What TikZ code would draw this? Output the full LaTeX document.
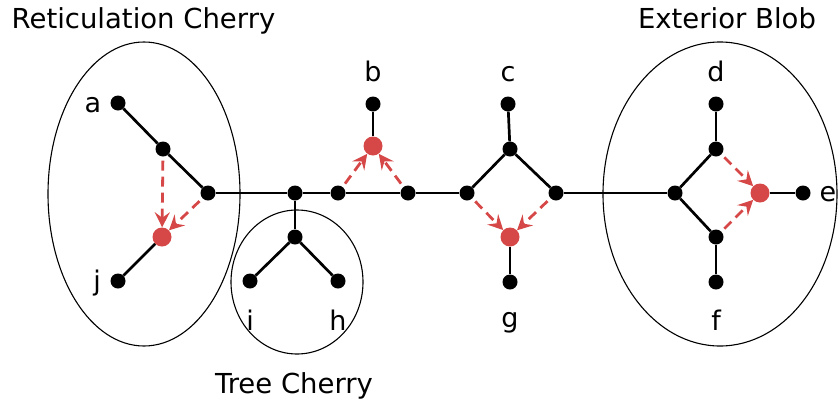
\documentclass[tikz,border=0pt]{standalone}
\usepackage{fontspec}
\setmainfont{DejaVu Sans}
\usetikzlibrary{arrows.meta}
\definecolor{retred}{RGB}{214,72,72}
\begin{document}
\begin{tikzpicture}[x=1pt,y=-1pt,
  dot/.style={circle,fill=black,inner sep=0pt,minimum size=15pt},
  rdot/.style={circle,fill=retred,inner sep=0pt,minimum size=19pt},
  edge/.style={line width=2.7pt,black},
  ret/.style={line width=2.8pt,retred,dash pattern=on 10pt off 6pt,-{Stealth[length=15pt,width=15pt,inset=5.5pt]},shorten <=4pt},
  blob/.style={line width=1.1pt,black},
  lab/.style={font=\fontsize{27}{31}\selectfont,inner sep=0pt,anchor=base},
  title/.style={font=\fontsize{27.5}{31}\selectfont,inner sep=0pt,anchor=base}]
\useasboundingbox (0,0) rectangle (838,405);
% blobs
\draw[blob] (144,194) ellipse [x radius=96,y radius=152];
\draw[blob] (297,282) ellipse [x radius=66,y radius=72];
\draw[blob] (720,194) ellipse [x radius=117,y radius=152];
% nodes
\node[dot] (a) at (118,103) {};
\node[dot] (u1) at (163,149) {};
\node[dot] (r1) at (208,193) {};
\node[rdot] (rj) at (162,237) {};
\node[dot] (j) at (118,281) {};
\node[dot] (t1) at (295,193) {};
\node[dot] (t2) at (295,237) {};
\node[dot] (i) at (250,281) {};
\node[dot] (h) at (338,281) {};
\node[dot] (p1) at (338,193) {};
\node[dot] (p2) at (408,193) {};
\node[rdot] (rb) at (373,146) {};
\node[dot] (b) at (373,104) {};
\node[dot] (q1) at (467,193) {};
\node[dot] (q3) at (510,149) {};
\node[dot] (c) at (508,104) {};
\node[dot] (q2) at (556,193) {};
\node[rdot] (rg) at (510,237) {};
\node[dot] (g) at (510,282) {};
\node[dot] (s) at (675,193) {};
\node[dot] (sd) at (716,149) {};
\node[dot] (d) at (716,104) {};
\node[dot] (sf) at (716,237) {};
\node[dot] (f) at (716,282) {};
\node[rdot] (re) at (760,193) {};
\node[dot] (e) at (803,193) {};
% labels
\node[lab] (la) at (93,112) {a};
\node[lab] (lj) at (97,290) {j};
\node[lab] (li) at (250,330) {i};
\node[lab] (lh) at (338,330) {h};
\node[lab] (lb) at (373,81) {b};
\node[lab] (lc) at (508,81) {c};
\node[lab] (lg) at (510,327) {g};
\node[lab] (ld) at (716,81) {d};
\node[lab] (lf) at (716,330) {f};
\node[lab] (le) at (828,201) {e};
\node[title] (T1) at (143.5,28) {Reticulation Cherry};
\node[title] (T2) at (727,28) {Exterior Blob};
\node[title] (T3) at (294,393) {Tree Cherry};
% tree edges
\draw[edge] (a) -- (u1) -- (r1);
\draw[edge] (rj) -- (j);
\draw[edge] (r1) -- (t1) -- (p1) -- (p2) -- (q1);
\draw[edge] (t1) -- (t2);
\draw[edge] (i) -- (t2) -- (h);
\draw[edge] (rb) -- (b);
\draw[edge] (q1) -- (q3) -- (q2);
\draw[edge] (q3) -- (c);
\draw[edge] (rg) -- (g);
\draw[edge] (q2) -- (s);
\draw[edge] (sd) -- (s) -- (sf);
\draw[edge] (sd) -- (d);
\draw[edge] (sf) -- (f);
\draw[edge] (re) -- (e);
% reticulation edges
\draw[ret] (u1) -- (rj);
\draw[ret] (r1) -- (rj);
\draw[ret] (p1) -- (rb);
\draw[ret] (p2) -- (rb);
\draw[ret] (q1) -- (rg);
\draw[ret] (q2) -- (rg);
\draw[ret] (sd) -- (re);
\draw[ret] (sf) -- (re);
\end{tikzpicture}
\end{document}
